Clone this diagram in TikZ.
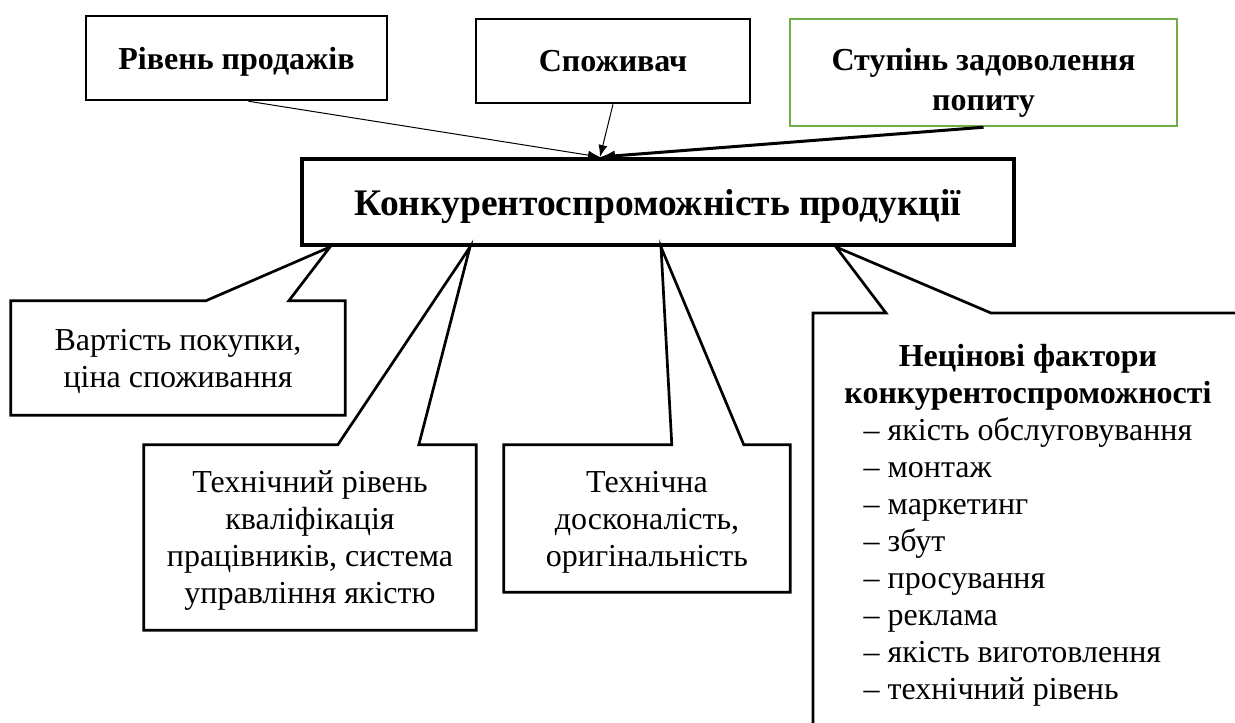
\documentclass[tikz,border=0pt]{standalone}
\usepackage{fontspec}
\setmainfont{Liberation Serif}
\usetikzlibrary{arrows.meta, positioning}
\definecolor{demandgreen}{RGB}{112,173,71}

\begin{document}
\begin{tikzpicture}[x=1pt, y=-1pt]
    \tikzstyle{block} = [rectangle, draw, line width=2.5pt, font=\fontsize{32}{40}\selectfont\bfseries, align=center, inner sep=0pt, text depth=0pt]
    \tikzstyle{note} = [rectangle, font=\fontsize{32}{37}\selectfont, align=center, inner sep=0pt, text depth=0pt]
    \tikzstyle{callout} = [draw, line width=2.7pt]
    \tikzstyle{line} = [draw, line width=1pt, -{Latex[length=12pt, width=9pt]}]

    \useasboundingbox (0,0) rectangle (1235,723);
    \clip (0,0) rectangle (1235,723);

    \node [block, minimum width=301, minimum height=84] (sales) at (236.5,58) {Рівень продажів};
    \node [block, minimum width=274, minimum height=84] (consumer) at (613,61) {Споживач};
    \node [block, draw=demandgreen, minimum width=387, minimum height=107, text height=76pt] (demand) at (983.5,72.5) {Ступінь задоволення\\попиту};
    \node [block, line width=4pt, minimum width=712, minimum height=86, font=\fontsize{37.5}{44}\selectfont\bfseries] (main) at (658,202) {Конкурентоспроможність продукції};
    \coordinate (hub) at ([xshift=-58pt]main.north);

    \path [line] ([xshift=12pt]sales.south) -- (hub);
    \path [line] (consumer.south) -- (hub);
    \path [line, line width=3pt, -{Latex[length=15pt, width=11pt]}] (demand.south) -- (hub);

    % callouts under the main box
    \node [note, minimum width=334, minimum height=114] (cost) at (178,358) {Вартість покупки,\\ціна споживання};
    \draw [callout] (cost.north west) -- ([xshift=195pt]cost.north west) -- ([xshift=30pt]main.south west)
        -- ([xshift=278pt]cost.north west) -- (cost.north east) -- (cost.south east) -- (cost.south west) -- cycle;

    \node [note, minimum width=332, minimum height=185] (tech) at (310,537.5) {Технічний рівень\\кваліфікація\\працівників, система\\управління якістю};
    \draw [callout] (tech.north west) -- ([xshift=194pt]tech.north west) -- ([xshift=170pt]main.south west)
        -- ([xshift=275pt]tech.north west) -- (tech.north east) -- (tech.south east) -- (tech.south west) -- cycle;

    \node [note, minimum width=286, minimum height=147] (perfect) at (647,518.5) {Технічна\\досконалість,\\оригінальність};
    \draw [callout] (perfect.north west) -- ([xshift=168pt]perfect.north west) -- ([xshift=3pt]main.south)
        -- ([xshift=240pt]perfect.north west) -- (perfect.north east) -- (perfect.south east) -- (perfect.south west) -- cycle;

    \coordinate (npcorner) at (813,313);
    \node [note, anchor=north] (nonprice) at (1028,344) {\textbf{Нецінові фактори}\\\textbf{конкурентоспроможності}\\
        \begin{tabular}[t]{@{}l@{}}– якість обслуговування\\– монтаж\\– маркетинг\\– збут\\– просування\\– реклама\\– якість виготовлення\\– технічний рівень\end{tabular}};
    \draw [callout] ([yshift=-460pt]npcorner) -- (npcorner) -- ([xshift=73pt]npcorner) -- ([xshift=-180pt]main.south east)
        -- ([xshift=178pt]npcorner) -- ([xshift=450pt]npcorner);
\end{tikzpicture}
\end{document}
